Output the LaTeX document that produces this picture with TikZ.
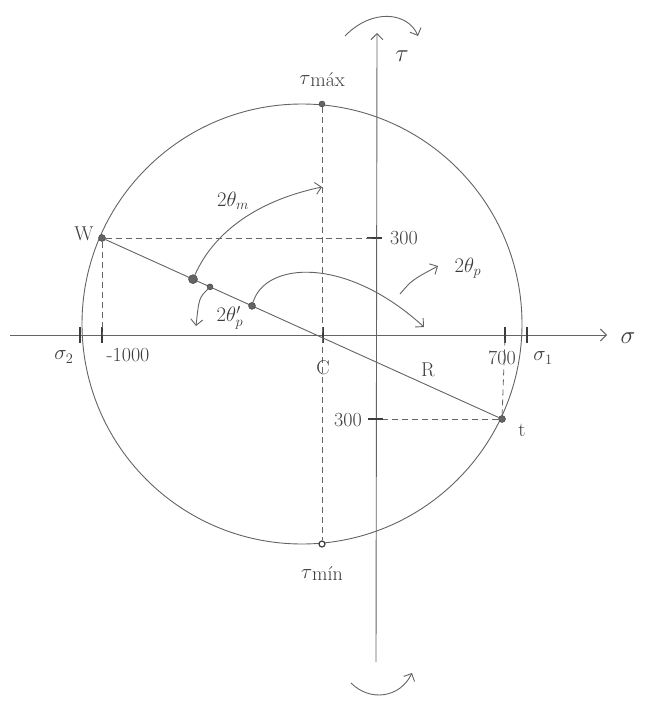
\documentclass[tikz,border=0pt]{standalone}
\usepackage{amsmath}
\usetikzlibrary{arrows.meta,calc}
\definecolor{pencil}{RGB}{100,100,100}
\definecolor{pencilink}{RGB}{60,60,60}
\begin{document}
\begin{tikzpicture}[x=1pt,y=-1pt,
  every node/.style={text=pencilink,font=\fontsize{20}{24}\selectfont},
  big/.style={font=\fontsize{30}{34}\selectfont},
  ln/.style={draw=pencil,line width=0.9pt},
  dsh/.style={draw=pencil,line width=0.8pt,dash pattern=on 6pt off 4pt},
  barb/.style={-{Straight Barb[length=6pt,width=12pt,line width=0.9pt]}},
  dotp/.style={circle,fill=pencil,draw=pencilink,inner sep=0pt,minimum size=#1},
  tick/.style={draw=pencilink,line width=1.4pt}]
\useasboundingbox (0,0) rectangle (654,709);
\fill[white] (0,0) rectangle (654,709);
% circle
\draw[ln] (302,324) circle [radius=220];
% axes
\coordinate (sL) at (10,335);
\coordinate (sR) at (607,335);
\coordinate (tB) at (376,662);
\coordinate (tT) at (377,33);
\draw[ln,barb] (sL) -- (sR);
\draw[ln,barb] (tB) -- (tT);
% points
\node[dotp=7pt] (A) at (102,238) {};
\node[dotp=7pt] (T) at (502,419) {};
\node[dotp=6pt] (tmax) at (322,104) {};
\node[circle,fill=white,draw=pencilink,line width=1.2pt,inner sep=0pt,minimum size=6pt] (tmin) at (322,544) {};
% axis ticks
\coordinate (C) at (323,335);
\coordinate (s2) at (80,335);
\coordinate (m1000) at (102,335);
\coordinate (s1) at (527,335);
\coordinate (p700) at (505,335);
\coordinate (ty1) at (376,238);
\coordinate (ty2) at (376,419);
\foreach \p in {C,s2,m1000,s1,p700} \draw[tick] ($(\p)+(0,-8)$) -- ($(\p)+(0,8)$);
\draw[tick] ($(ty1)+(-9,0)$) -- ($(ty1)+(6,0)$);
\draw[tick] ($(ty2)+(-8,0)$) -- ($(ty2)+(7,0)$);
% dashed guide lines
\draw[dsh] (A) -- (ty1);
\draw[dsh] (A) -- (m1000);
\draw[dsh] (T) -- ($(ty2)+(7,0)$);
\draw[dsh] (T) -- (p700);
\draw[dsh] (tmax) -- (tmin);
% diameter
\draw[ln] (A) -- (T);
% points on diameter
\node[dotp=9pt] (D1) at ($(A)!0.2275!(T)$) {};
\node[dotp=6pt] (D2) at ($(A)!0.27!(T)$) {};
\node[dotp=7pt] (D3) at ($(A)!0.375!(T)$) {};
% rotation arrows
\coordinate (e1) at (322,187);
\coordinate (e2) at (196,326);
\coordinate (e3) at (424,327);
\draw[ln,barb] (D1) .. controls (215,230) and (260,200) .. (e1);
\draw[ln,barb] (D2) .. controls (199,298) .. (e2);
\draw[ln,barb] (D3) .. controls (265,262) and (345,255) .. (e3);
\coordinate (q1) at (400,294);
\coordinate (q2) at (438,266);
\draw[ln,barb] (q1) .. controls (412,280) .. (q2);
% direction hooks
\coordinate (h1) at (345,36);
\coordinate (h2) at (418,36);
\draw[ln,barb] (h1) .. controls (372,8) and (408,12) .. (h2);
\coordinate (b1) at (351,683);
\coordinate (b2) at (412,673);
\draw[ln,barb] (b1) .. controls (370,702) and (400,698) .. (b2);
% labels
\node[big] (ltau) at (402,56) {$\tau$};
\node[big] (lsig) at (628,338) {$\sigma$};
\node (ltmax) at (322,80) {$\tau$\raisebox{-2pt}{máx}};
\node (ltmin) at (322,574) {$\tau$\raisebox{-2pt}{mín}};
\node (lW) at (84,234) {W};
\node (lt) at (522,430) {t};
\node (lC) at (323,368) {C};
\node (lR) at (428,370) {R};
\node (ls2) at (64,357) {$\sigma_2$};
\node (lm1000) at (128,355) {-1000};
\node (l700) at (502,358) {700};
\node (ls1) at (543,358) {$\sigma_1$};
\node (l300a) at (404,238) {300};
\node (l300b) at (348,420) {300};
\node (l2tm) at (233,201) {$2\theta_m$};
\node (l2tpp) at (230,318) {$2\theta_p'$};
\node (l2tp) at (468,268) {$2\theta_p$};
\end{tikzpicture}
\end{document}
